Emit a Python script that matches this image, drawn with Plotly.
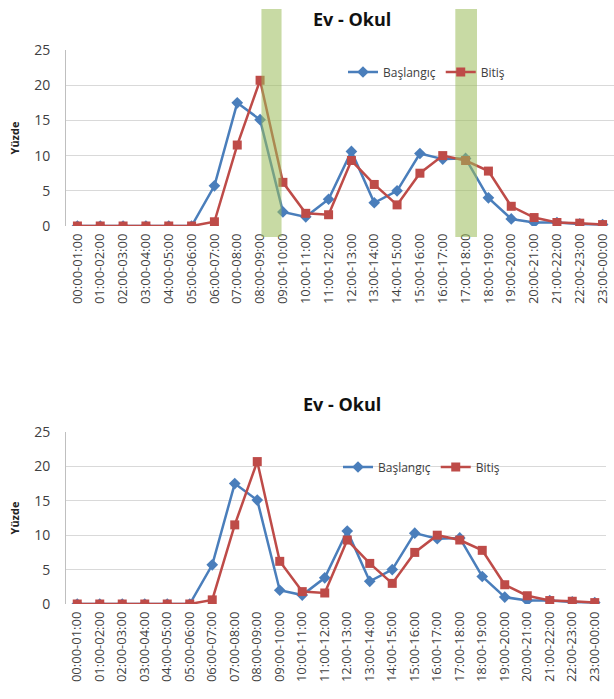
import plotly.graph_objects as go

hours = ["00:00-01:00", "01:00-02:00", "02:00-03:00", "03:00-04:00", "04:00-05:00",
         "05:00-06:00", "06:00-07:00", "07:00-08:00", "08:00-09:00", "09:00-10:00",
         "10:00-11:00", "11:00-12:00", "12:00-13:00", "13:00-14:00", "14:00-15:00",
         "15:00-16:00", "16:00-17:00", "17:00-18:00", "18:00-19:00", "19:00-20:00",
         "20:00-21:00", "21:00-22:00", "22:00-23:00", "23:00-00:00"]
baslangic = [0, 0, 0, 0, 0, 0, 5.7, 17.5, 15.1, 2.0, 1.3, 3.8, 10.6, 3.3, 5.0,
             10.3, 9.5, 9.6, 4.0, 1.0, 0.5, 0.5, 0.3, 0.2]
bitis = [0, 0, 0, 0, 0, 0, 0.6, 11.5, 20.7, 6.2, 1.8, 1.6, 9.3, 5.9, 3.0,
         7.5, 10.0, 9.3, 7.8, 2.8, 1.2, 0.5, 0.4, 0.2]
y_ticks = [0, 5, 10, 15, 20, 25]
title_text = "Ev - Okul"
y_title = "Yüzde"
highlight_hours = ["08:00-09:00", "17:00-18:00"]

BLUE = "#4A7EBB"
RED = "#BE4B48"
GRID = "#D9D9D9"
FONT = "Open Sans"

fig = go.Figure()
for i, (xa, ya, lg) in enumerate([("x", "y", "legend"), ("x2", "y2", "legend2")]):
    fig.add_trace(go.Scatter(x=hours, y=baslangic, name="Başlangıç", mode="lines+markers",
                             line=dict(color=BLUE, width=2.5),
                             marker=dict(symbol="diamond", size=9, color=BLUE),
                             xaxis=xa, yaxis=ya, legend=lg))
    fig.add_trace(go.Scatter(x=hours, y=bitis, name="Bitiş", mode="lines+markers",
                             line=dict(color=RED, width=2.5),
                             marker=dict(symbol="square", size=9, color=RED),
                             xaxis=xa, yaxis=ya, legend=lg))

W, H = 614, 699


def px(v, total):
    return v / total


xaxis_common = dict(type="category", range=[-0.5, 23.5], showgrid=False, zeroline=False,
                    showline=False, ticks="", tickangle=-90, automargin=False,
                    ticklabelstandoff=4,
                    tickfont=dict(family=FONT, size=13, color="#404040"))
yaxis_common = dict(range=[0, 25], tickvals=y_ticks, showgrid=True, gridcolor=GRID,
                    gridwidth=1, zeroline=False, showline=True, linecolor="#BFBFBF",
                    linewidth=1, ticks="", ticklabelstandoff=12, automargin=False,
                    tickfont=dict(family=FONT, size=14, color="#404040"),
                    title=dict(text="<b>" + y_title + "</b>",
                               font=dict(family=FONT, size=11, color="#222222"),
                               standoff=12))

fig.update_layout(
    width=W, height=H, margin=dict(l=0, r=0, t=0, b=0, autoexpand=False),
    paper_bgcolor="white", plot_bgcolor="white",
    xaxis=dict(domain=[px(66, W), 1.0], anchor="y", **xaxis_common),
    yaxis=dict(domain=[1 - px(226, H), 1 - px(50, H)], anchor="x", **yaxis_common),
    xaxis2=dict(domain=[px(66, W), px(606, W)], anchor="y2", **xaxis_common),
    yaxis2=dict(domain=[1 - px(604, H), 1 - px(432, H)], anchor="x2", **yaxis_common),
    legend=dict(orientation="h", x=px(343, W), y=1 - px(72, H), xanchor="left",
                yanchor="middle", font=dict(family=FONT, size=12, color="#404040"),
                bgcolor="rgba(0,0,0,0)", itemwidth=30),
    legend2=dict(orientation="h", x=px(338, W), y=1 - px(467, H), xanchor="left",
                 yanchor="middle", font=dict(family=FONT, size=12, color="#404040"),
                 bgcolor="rgba(0,0,0,0)", itemwidth=30),
    showlegend=True,
)

for yp, xp in [(1 - px(19, H), px(352, W)), (1 - px(404, H), px(342, W))]:
    fig.add_annotation(text="<b>" + title_text + "</b>", x=xp, y=yp,
                       xref="paper", yref="paper", showarrow=False,
                       xanchor="center", yanchor="middle",
                       font=dict(family=FONT, size=18, color="#111111"))

# green highlight bands on the top chart
offsets = [(0.06, 0.94), (-0.45, 0.5)]
for hname, (a, b) in zip(highlight_hours, offsets):
    idx = hours.index(hname)
    fig.add_shape(type="rect", xref="x", yref="paper",
                  x0=idx + a, x1=idx + b,
                  y0=1 - px(237, H), y1=1 - px(9, H),
                  fillcolor="#9BBB59", opacity=0.55, line=dict(width=0), layer="above")

fig.write_html("out.html", config={"displayModeBar": False},
               post_script="document.body.style.margin='0';document.body.style.overflow='hidden';")
